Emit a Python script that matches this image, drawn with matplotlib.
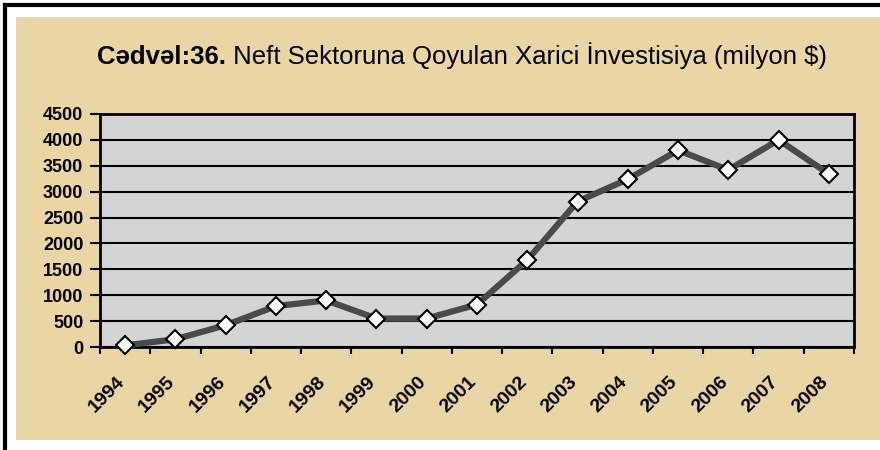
import matplotlib
matplotlib.use("Agg")
import matplotlib.pyplot as plt
from matplotlib.patches import Rectangle
from matplotlib.transforms import ScaledTranslation

years = ["1994", "1995", "1996", "1997", "1998", "1999", "2000", "2001",
         "2002", "2003", "2004", "2005", "2006", "2007", "2008"]
values = [30, 150, 420, 790, 900, 550, 550, 820, 1680, 2810, 3240, 3800, 3420, 4000, 3340]
yticks = [0, 500, 1000, 1500, 2000, 2500, 3000, 3500, 4000, 4500]
title_bold = "Cədvəl:36."
title_rest = " Neft Sektoruna Qoyulan Xarici İnvestisiya (milyon $)"

plt.rcParams['font.family'] = ['Liberation Sans', 'DejaVu Sans']

W, H = 880, 450
fig = plt.figure(figsize=(W / 100, H / 100), dpi=100)
fig.patch.set_facecolor('white')

def fx(x):
    return x / W

def fy(y):
    return 1 - y / H

# parchment background
bg = Rectangle((fx(16), fy(440)), fx(880) - fx(16), fy(17) - fy(440),
               transform=fig.transFigure, facecolor='#EAD6A4',
               edgecolor='none', zorder=-10)
fig.add_artist(bg)
# black outer frame (left + top)
fig.add_artist(plt.Line2D([fx(4.7), fx(4.7)], [fy(450), fy(4.7)], transform=fig.transFigure,
                          color='black', lw=3, zorder=-5))
fig.add_artist(plt.Line2D([fx(4.7), fx(880)], [fy(4.7), fy(4.7)], transform=fig.transFigure,
                          color='black', lw=3, zorder=-5))

ax = fig.add_axes([fx(100), fy(347), fx(854) - fx(100), fy(114) - fy(347)])
ax.set_facecolor('#D4D4D4')
x = list(range(len(years)))
ax.plot(x, values, color='#4A4A4A', lw=4.5, marker='D', markersize=9,
        markerfacecolor='white', markeredgecolor='black', markeredgewidth=1.5,
        zorder=5, clip_on=False)
ax.set_xlim(-0.5, len(years) - 0.5)
ax.set_ylim(0, 4500)
ax.set_yticks(yticks)
ax.set_yticklabels([str(v) for v in yticks], fontsize=13, fontweight='bold')
ax.set_xticks([i - 0.5 for i in range(len(years) + 1)], minor=False)
ax.set_xticklabels([])
ax.set_xticks(x, minor=True)
ax.set_xticklabels(years, minor=True, rotation=45, ha='right', va='top',
                   rotation_mode='anchor', fontsize=14, fontweight='bold')
ax.tick_params(axis='x', which='minor', length=0, pad=19)
ax.tick_params(axis='x', which='major', length=5, width=1.5, direction='out')
ax.tick_params(axis='y', length=7, width=1.5, direction='out', pad=5)
ax.grid(axis='y', color='black', lw=1.5)
ax.set_axisbelow(True)
for s in ax.spines.values():
    s.set_linewidth(2)
    s.set_color('black')

shift = ScaledTranslation(-9 / 100, 0, fig.dpi_scale_trans)
for lab in ax.get_xticklabels(minor=True):
    lab.set_transform(lab.get_transform() + shift)

# title: bold part + normal part, centered together
fig.canvas.draw()
r = fig.canvas.get_renderer()
t1 = fig.text(0, fy(64), title_bold, fontsize=18.5, fontweight='bold', va='baseline', ha='left')
t2 = fig.text(0, fy(64), title_rest, fontsize=18.5, va='baseline', ha='left')
w1 = t1.get_window_extent(r).width
w2 = t2.get_window_extent(r).width
cx = 462
x0 = cx - (w1 + w2) / 2
t1.set_x(fx(x0))
t2.set_x(fx(x0 + w1))

fig.savefig('out.png', dpi=100, facecolor='white')
